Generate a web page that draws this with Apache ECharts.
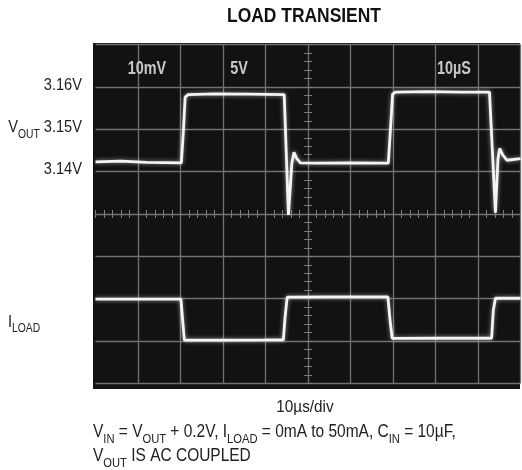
<!DOCTYPE html>
<html>
<head>
<meta charset="utf-8">
<script src="https://cdn.jsdelivr.net/npm/echarts@6/dist/echarts.min.js"></script>
<style>
html,body{margin:0;padding:0;background:#fff;}
#c{width:522px;height:470px;}
</style>
</head>
<body>
<div id="c"></div>
<script>
// ---- data (time in µs, 10 µs/div) ----
const voutTime = [0, 6, 12, 20.2, 20.7, 21.1, 21.8, 28, 36, 44.4, 45.4, 46.2, 46.7, 47.3, 48.2, 52, 60, 68.9, 69.4, 69.9, 70.6, 78, 86, 92.7, 94.1, 94.7, 95.1, 95.8, 96.8, 100];
const voutVolts = [3.1423, 3.1425, 3.1422, 3.1421, 3.1500, 3.1576, 3.1582, 3.1584, 3.1583, 3.1582, 3.1298, 3.1420, 3.1446, 3.1432, 3.1421, 3.1420, 3.1421, 3.1420, 3.1500, 3.1583, 3.1588, 3.1589, 3.1588, 3.1588, 3.1303, 3.1430, 3.1455, 3.1440, 3.1427, 3.1431];
const iloadTime = [0, 10, 20.1, 20.5, 20.9, 30, 40, 44.2, 44.6, 45.1, 55, 68.8, 69.3, 69.8, 80, 93.2, 93.6, 94.1, 100];
const iloadMilliamps = [49.5, 49.5, 49.5, 25, 1.0, 1.0, 1.2, 1.4, 28, 51.8, 52.2, 52.0, 25, 3.0, 3.2, 3.2, 36, 50.5, 50.5];
const voutTicks = [3.14, 3.15, 3.16];
const voutTickText = ['3.14V', '3.15V', '3.16V'];
const iloadLabelLevel = 25; // mA, label sits between the two current levels
const screenLabels = ['10mV', '5V', '10µS'];

const FONT = '"Liberation Sans", Arial, sans-serif';
const NARROW = 0.86;
const zip = (a, b) => a.map((v, i) => [v, b[i]]);

const chart = echarts.init(document.getElementById('c'), null, {renderer: 'canvas'});
const gridL = 95.5, gridT = 44.7, gridW = 425, gridH = 338.6;
const tickColor = '#7a7a7a';
const gridColor = '#727272';

function centerX(inside) {
  return {
    type: 'value', min: 0, max: 100, interval: 10, gridIndex: 0, position: 'bottom',
    offset: -gridH / 2,
    axisLine: {show: false}, axisLabel: {show: false}, splitLine: {show: false},
    axisTick: {show: true, inside: inside, length: 4, lineStyle: {color: tickColor, width: 1}},
    minorTick: {show: true, splitNumber: 5, length: 4, lineStyle: {color: tickColor, width: 1}}
  };
}
function centerY(inside) {
  return {
    type: 'value', min: -4, max: 4, interval: 1, gridIndex: 0, position: 'left',
    offset: -gridW / 2,
    axisLine: {show: false}, axisLabel: {show: false}, splitLine: {show: false},
    axisTick: {show: true, inside: inside, length: 4, lineStyle: {color: tickColor, width: 1}},
    minorTick: {show: true, splitNumber: 5, length: 4, lineStyle: {color: tickColor, width: 1}}
  };
}

const traceStyle = {color: '#f4f4f4', width: 2.8, shadowBlur: 4, shadowColor: 'rgba(255,255,255,0.55)'};

const option = {
  animation: false,
  backgroundColor: '#ffffff',
  grid: {left: gridL, top: gridT, width: gridW, height: gridH, show: false, containLabel: false, outerBoundsMode: 'none'},
  xAxis: [
    {
      type: 'value', min: 0, max: 100, interval: 10,
      axisLine: {show: false}, axisTick: {show: false}, axisLabel: {show: false},
      splitLine: {show: true, showMinLine: false, lineStyle: {color: gridColor, width: 1.3}}
    },
    centerX(true), centerX(false)
  ],
  yAxis: [
    {
      type: 'value', min: 3.09, max: 3.17, interval: 0.01,
      axisLine: {show: false}, axisTick: {show: false}, axisLabel: {show: false},
      splitLine: {show: true, lineStyle: {color: gridColor, width: 1.3}}
    },
    {
      type: 'value', min: -50, max: 350, interval: 50, show: false
    },
    centerY(true), centerY(false)
  ],
  series: [
    {
      name: 'VOUT', type: 'line', xAxisIndex: 0, yAxisIndex: 0,
      data: zip(voutTime, voutVolts), showSymbol: false, symbol: 'none',
      lineStyle: traceStyle, z: 5
    },
    {
      name: 'ILOAD', type: 'line', xAxisIndex: 0, yAxisIndex: 1,
      data: zip(iloadTime, iloadMilliamps), showSymbol: false, symbol: 'none',
      lineStyle: traceStyle, z: 5
    }
  ]
};
chart.setOption(option);

// ---- text layer (horizontally condensed to mimic the narrow typeface) ----
const ink = '#222';
const richN = (fs, lh) => ({fontFamily: FONT, fontSize: fs, fill: ink, color: ink, lineHeight: lh});
const richS = (fs, lh, pb) => ({fontFamily: FONT, fontSize: fs, fill: ink, color: ink, lineHeight: lh, verticalAlign: 'bottom', padding: [0, 0, pb, 0]});

const g = [
  {type: 'rect', z: -1, silent: true, shape: {x: 93, y: 43, width: 427, height: 346}, style: {fill: '#121212'}},
  {type: 'text', x: 304, y: 16, scaleX: 0.83, style: {text: 'LOAD TRANSIENT', font: 'bold 21px ' + FONT, fill: '#111', align: 'center', verticalAlign: 'middle'}},
  {type: 'text', x: 305, y: 407, scaleX: 0.9, style: {text: '10µs/div', font: '17px ' + FONT, fill: ink, align: 'center', verticalAlign: 'middle'}}
];
const labelX = [147, 239, 454];
screenLabels.forEach((t, i) => g.push({type: 'text', x: labelX[i], y: 69, z: 10, scaleX: 0.8,
  style: {text: t, font: 'bold 18px ' + FONT, fill: '#c8c8c8', align: 'center', verticalAlign: 'middle'}}));

voutTicks.forEach((v, i) => {
  const py = chart.convertToPixel({yAxisIndex: 0}, v);
  const txt = i === 1 ? '{n|V}{s|OUT}{n| ' + voutTickText[i] + '}' : '{n|' + voutTickText[i] + '}';
  g.push({type: 'text', x: 82, y: py - 2, scaleX: NARROW, style: {
    text: txt, align: 'right', verticalAlign: 'middle',
    rich: {n: richN(17, 20), s: richS(12, 12, -3)}
  }});
});
const iy = chart.convertToPixel({yAxisIndex: 1}, iloadLabelLevel);
g.push({type: 'text', x: 8, y: iy + 2, scaleX: NARROW, style: {
  text: '{n|I}{s|LOAD}', verticalAlign: 'middle',
  rich: {n: richN(17, 20), s: richS(12, 12, -3)}
}});
g.push({type: 'text', x: 93, y: 420, scaleX: NARROW, style: {
  text: '{n|V}{s|IN}{n| = V}{s|OUT}{n| + 0.2V, I}{s|LOAD}{n| = 0mA to 50mA, C}{s|IN}{n| = 10µF,}\n{n|V}{s|OUT}{n| IS AC COUPLED}',
  rich: {n: richN(18, 24), s: richS(13, 14, -2)}
}});
chart.setOption({graphic: g});
</script>
</body>
</html>
